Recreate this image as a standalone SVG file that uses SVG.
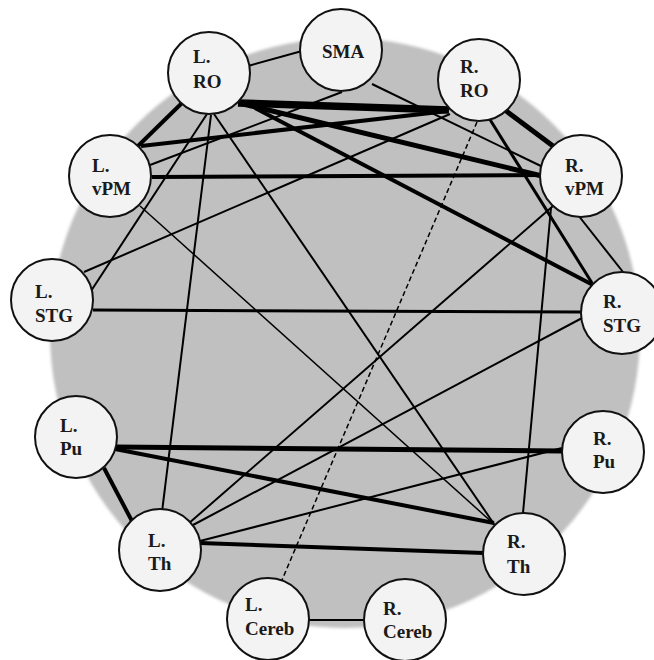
<svg xmlns="http://www.w3.org/2000/svg" width="654" height="660" viewBox="0 0 654 660">
  <defs>
    <filter id="soft" x="-5%" y="-5%" width="110%" height="110%">
      <feGaussianBlur stdDeviation="1.5"/>
    </filter>
    <style>
      .bg { fill: #c0c0c0; }
      .node circle { fill: #f3f3f3; stroke: #111; stroke-width: 2; }
      .node text { font-family: "Liberation Serif", "Times New Roman", serif; font-weight: bold; font-size: 19px; fill: #1a1a1a; }
      .edges line { stroke: #000; stroke-linecap: butt; }
      .w1 { stroke-width: 1.5; }
      .w2 { stroke-width: 2; }
      .w3 { stroke-width: 3; }
      .w4 { stroke-width: 4; }
      .w5 { stroke-width: 5; }
      .w7 { stroke-width: 7.5; }
      .dash { stroke-width: 1.5; stroke-dasharray: 5 3; }
    </style>
  </defs>

  <rect width="654" height="660" fill="#ffffff"/>
  <!-- background disc -->
  <circle class="bg" cx="345" cy="333" r="295" filter="url(#soft)"/>

  <!-- connectors -->
  <g id="connectors" class="edges">
    <line class="w2" x1="248" y1="66" x2="302" y2="51"/>
    <line class="w7" x1="238" y1="103" x2="449" y2="110"/>
    <line class="w4" x1="185" y1="100" x2="138" y2="146"/>
    <line class="w5" x1="243" y1="104" x2="542" y2="176"/>
    <line class="w4" x1="255" y1="108" x2="593" y2="285"/>
    <line class="w2" x1="211" y1="115" x2="162" y2="512"/>
    <line class="w2" x1="214" y1="114" x2="494" y2="524"/>
    <line class="w2" x1="207" y1="114" x2="91" y2="291"/>
    <line class="w2" x1="372" y1="84" x2="545" y2="168"/>
    <line class="w2" x1="150" y1="165" x2="342" y2="92"/>
    <line class="w4" x1="141" y1="146" x2="448" y2="111"/>
    <line class="w4" x1="152" y1="177" x2="541" y2="175"/>
    <line class="w1" x1="140" y1="206" x2="495" y2="525"/>
    <line class="w2" x1="84" y1="272" x2="450" y2="114"/>
    <line class="w3" x1="93" y1="310" x2="583" y2="312"/>
    <line class="w5" x1="505" y1="110" x2="553" y2="146"/>
    <line class="w3" x1="489" y1="118" x2="592" y2="283"/>
    <line class="dash" x1="477" y1="122" x2="282" y2="580"/>
    <line class="w2" x1="578" y1="215" x2="623" y2="272"/>
    <line class="w2" x1="551" y1="208" x2="523" y2="513"/>
    <line class="w2" x1="188" y1="524" x2="553" y2="206"/>
    <line class="w2" x1="193" y1="525" x2="584" y2="317"/>
    <line class="w2" x1="200" y1="541" x2="562" y2="448"/>
    <line class="w4" x1="200" y1="543" x2="484" y2="553"/>
    <line class="w5" x1="115" y1="447" x2="562" y2="451"/>
    <line class="w4" x1="115" y1="449" x2="494" y2="523"/>
    <line class="w4" x1="104" y1="468" x2="133" y2="523"/>
    <line class="w2" x1="307" y1="620" x2="366" y2="620"/>
  </g>

  <!-- nodes -->
  <g id="L_RO" class="node">
    <circle cx="209" cy="73" r="41"/>
    <text x="193" y="63">L.</text><text x="193" y="88">RO</text>
  </g>
  <g id="SMA" class="node">
    <circle cx="341" cy="50" r="41"/>
    <text x="343" y="58" text-anchor="middle">SMA</text>
  </g>
  <g id="R_RO" class="node">
    <circle cx="479" cy="80" r="41"/>
    <text x="460" y="73">R.</text><text x="460" y="97">RO</text>
  </g>
  <g id="L_vPM" class="node">
    <circle cx="110" cy="176" r="41"/>
    <text x="92" y="172">L.</text><text x="92" y="195">vPM</text>
  </g>
  <g id="R_vPM" class="node">
    <circle cx="581" cy="176" r="41"/>
    <text x="565" y="172">R.</text><text x="565" y="195">vPM</text>
  </g>
  <g id="L_STG" class="node">
    <circle cx="52" cy="300" r="41"/>
    <text x="35" y="298">L.</text><text x="35" y="322">STG</text>
  </g>
  <g id="R_STG" class="node">
    <circle cx="622" cy="313" r="41"/>
    <text x="603" y="308">R.</text><text x="603" y="332">STG</text>
  </g>
  <g id="L_Pu" class="node">
    <circle cx="76" cy="437" r="41"/>
    <text x="60" y="432">L.</text><text x="60" y="455">Pu</text>
  </g>
  <g id="R_Pu" class="node">
    <circle cx="603" cy="452" r="41"/>
    <text x="593" y="445">R.</text><text x="593" y="468">Pu</text>
  </g>
  <g id="L_Th" class="node">
    <circle cx="160" cy="550" r="41"/>
    <text x="148" y="547">L.</text><text x="148" y="570">Th</text>
  </g>
  <g id="R_Th" class="node">
    <circle cx="524" cy="554" r="41"/>
    <text x="507" y="548">R.</text><text x="507" y="573">Th</text>
  </g>
  <g id="L_Cereb" class="node">
    <circle cx="268" cy="619" r="41"/>
    <text x="245" y="611">L.</text><text x="245" y="635">Cereb</text>
  </g>
  <g id="R_Cereb" class="node">
    <circle cx="405" cy="620" r="41"/>
    <text x="383" y="615">R.</text><text x="383" y="638">Cereb</text>
  </g>
</svg>
